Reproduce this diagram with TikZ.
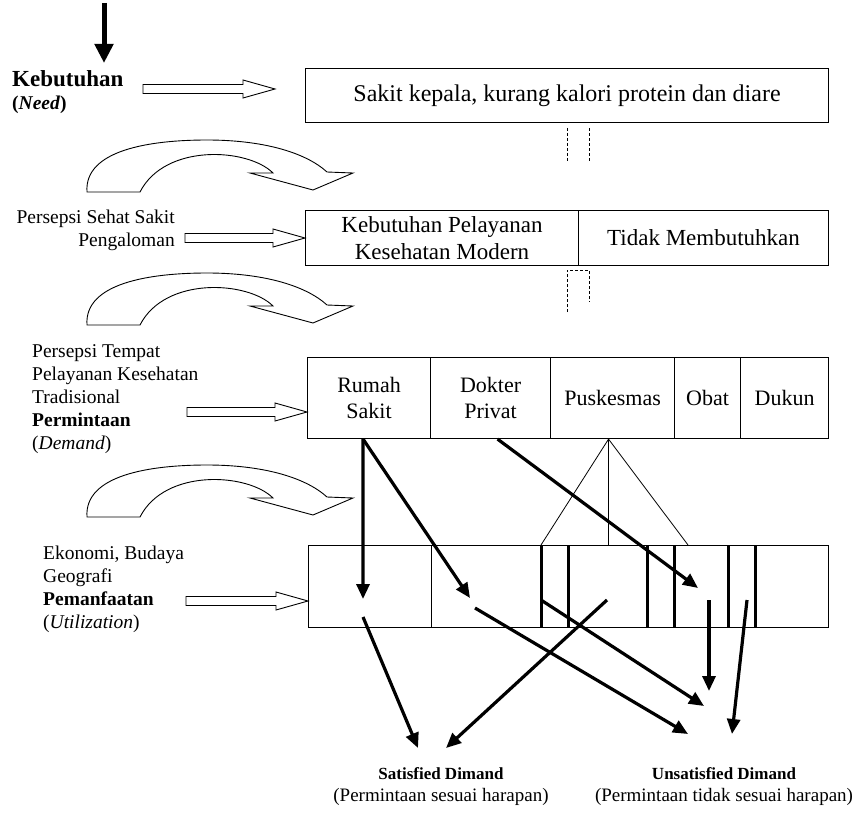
\documentclass[tikz,border=0pt]{standalone}
\usepackage{fontspec}
\setmainfont{Liberation Serif}
\usetikzlibrary{arrows.meta,calc}

% horizontal outlined arrow from #1 to #2 (tip at #2, height of #1)
\newcommand\hollowarrow[2]{%
  \draw[hollowline] let \p1=(#1), \p2=(#2) in
    (\x1,\y1+4.5pt) -- (\x2-32pt,\y1+4.5pt) -- (\x2-32pt,\y1+9pt) -- (\x2,\y1)
    -- (\x2-32pt,\y1-9pt) -- (\x2-32pt,\y1-4.5pt) -- (\x1,\y1-4.5pt) -- cycle;}

% curved outlined arrow, shifted down by #1
\newcommand\bendarrow[1]{%
  \begin{scope}[shift={(0,#1)}]
    \draw[hollowline] (87,192) .. controls (84,150) and (150,140) .. (207,140)
      .. controls (262,140) and (305,152) .. (327,172) -- (353,173) -- (313,190)
      -- (250,173) -- (273,173)
      .. controls (248,148) and (165,143) .. (140,192) -- cycle;
  \end{scope}}

\begin{document}
\begin{tikzpicture}[x=1pt,y=-1pt,
  hollowline/.style={line width=0.9pt, line join=miter},
  cell/.style={draw, line width=1.1pt, inner sep=0pt, align=center,
    anchor=north west, font=\fontsize{22}{26}\selectfont},
  wide/.style={font=\fontsize{23}{27}\selectfont},
  lab/.style={inner sep=0pt, font=\fontsize{19.5}{23}\selectfont},
  flow/.style={line width=3.2pt, -{Triangle[length=15pt,width=13pt]}},
  bar/.style={line width=3pt},
  thin/.style={line width=0.8pt},
  guide/.style={line width=0.7pt, dash pattern=on 3pt off 2pt},
  result/.style={inner sep=0pt, align=center, font=\fontsize{19}{22}\selectfont}]
\useasboundingbox (0,0) rectangle (861,813);

% ---- left-hand labels ----
\node[lab, align=left, anchor=north west] (need) at (12,70)
  {{\fontsize{23}{20}\selectfont\bfseries Kebutuhan}\\ \textbf{(\textit{Need})}};
\node[lab, align=right, anchor=north east] (sehat) at (175,210)
  {Persepsi Sehat Sakit\\Pengaloman};
\node[lab, align=left, anchor=north west] (tempat) at (32,344)
  {Persepsi Tempat\\Pelayanan Kesehatan\\Tradisional\\\textbf{Permintaan}\\(\textit{Demand})};
\node[lab, align=left, anchor=north west] (ekon) at (43,546)
  {Ekonomi, Budaya\\Geografi\\\textbf{Pemanfaatan}\\(\textit{Utilization})};

% ---- boxes ----
\node[cell, font=\fontsize{24}{27}\selectfont, minimum width=523pt, minimum height=54pt] (b1) at (305,68)
  {Sakit kepala, kurang kalori protein dan diare};
\node[cell, wide, minimum width=273pt, minimum height=55pt] (b2a) at (305,210)
  {Kebutuhan Pelayanan\\Kesehatan Modern};
\node[cell, wide, minimum width=250pt, minimum height=55pt] (b2b) at (578,210)
  {Tidak Membutuhkan};

\node[cell, minimum width=123pt, minimum height=81pt] (rs) at (307,357) {Rumah\\Sakit};
\node[cell, minimum width=120pt, minimum height=81pt] (dp) at (430,357) {Dokter\\Privat};
\node[cell, minimum width=124pt, minimum height=81pt] (pk) at (550,357) {Puskesmas};
\node[cell, minimum width=66pt, minimum height=81pt] (ob) at (674,357) {Obat};
\node[cell, minimum width=88pt, minimum height=81pt] (dk) at (740,357) {Dukun};

\node[cell, minimum width=123pt, minimum height=82pt] (u1) at (308,545) {};
\node[cell, minimum width=397pt, minimum height=82pt] (u2) at (431,545) {};
\foreach \bx in {541,568,647,674,728,755}
  \draw[bar] (\bx,545) -- (\bx,627);

% ---- bottom labels ----
\node[result] (sat) at (441,787)
  {{\fontsize{17}{22}\selectfont\bfseries Satisfied Dimand}\\(Permintaan sesuai harapan)};
\node[result] (unsat) at (724,787)
  {{\fontsize{17}{22}\selectfont\bfseries Unsatisfied Dimand}\\(Permintaan tidak sesuai harapan)};

% ---- top arrow ----
\coordinate (top) at (104,3);
\coordinate (topend) at (104,63);
\draw[line width=5pt, -{Triangle[length=19pt,width=18pt]}] (top) -- (topend);

% ---- outlined arrows ----
\coordinate (h1a) at (143,89);  \coordinate (h1b) at (275,89);
\hollowarrow{h1a}{h1b}
\coordinate (h2a) at (185,238);
\hollowarrow{h2a}{h2a -| b2a.west}
\coordinate (h3a) at (187,412);
\hollowarrow{h3a}{h3a -| rs.west}
\coordinate (h4a) at (186,601);
\hollowarrow{h4a}{h4a -| u1.west}

\bendarrow{0}
\bendarrow{133}
\bendarrow{325}

% ---- dashed guides between boxes ----
\draw[guide] (567,128) -- (567,162);
\draw[guide] (589,128) -- (589,162);
\draw[guide] (567,312) -- (567,270) -- (589,270) -- (589,302);

% ---- Puskesmas fan ----
\coordinate (apex) at ([xshift=-4pt]pk.south);
\draw[thin] (apex) -- (541,545);
\draw[thin] (apex) -- (apex |- u2.north);
\draw[thin] (apex) -- (688,545);

% ---- flows ----
\coordinate (rsb) at ([xshift=-6pt]rs.south);
\coordinate (dpb) at ([xshift=7pt]dp.south);
\coordinate (e1) at (363,599);
\coordinate (e2) at (470,598);
\coordinate (e3) at (698,588);
\draw[flow] (rsb) -- (e1);
\draw[flow] (rsb) -- (e2);
\draw[flow] (dpb) -- (e3);

\coordinate (s4) at (363,617); \coordinate (e4) at (418,748);
\coordinate (s5) at (607,600); \coordinate (e5) at (446,748);
\coordinate (s6) at (475,608); \coordinate (e6) at (688,734);
\coordinate (s7) at (541,600); \coordinate (e7) at (704,706);
\coordinate (s8) at (709,600); \coordinate (e8) at (709,691);
\coordinate (s9) at (747,600); \coordinate (e9) at (732,734);
\foreach \k in {4,...,9}
  \draw[flow] (s\k) -- (e\k);
\end{tikzpicture}
\end{document}
